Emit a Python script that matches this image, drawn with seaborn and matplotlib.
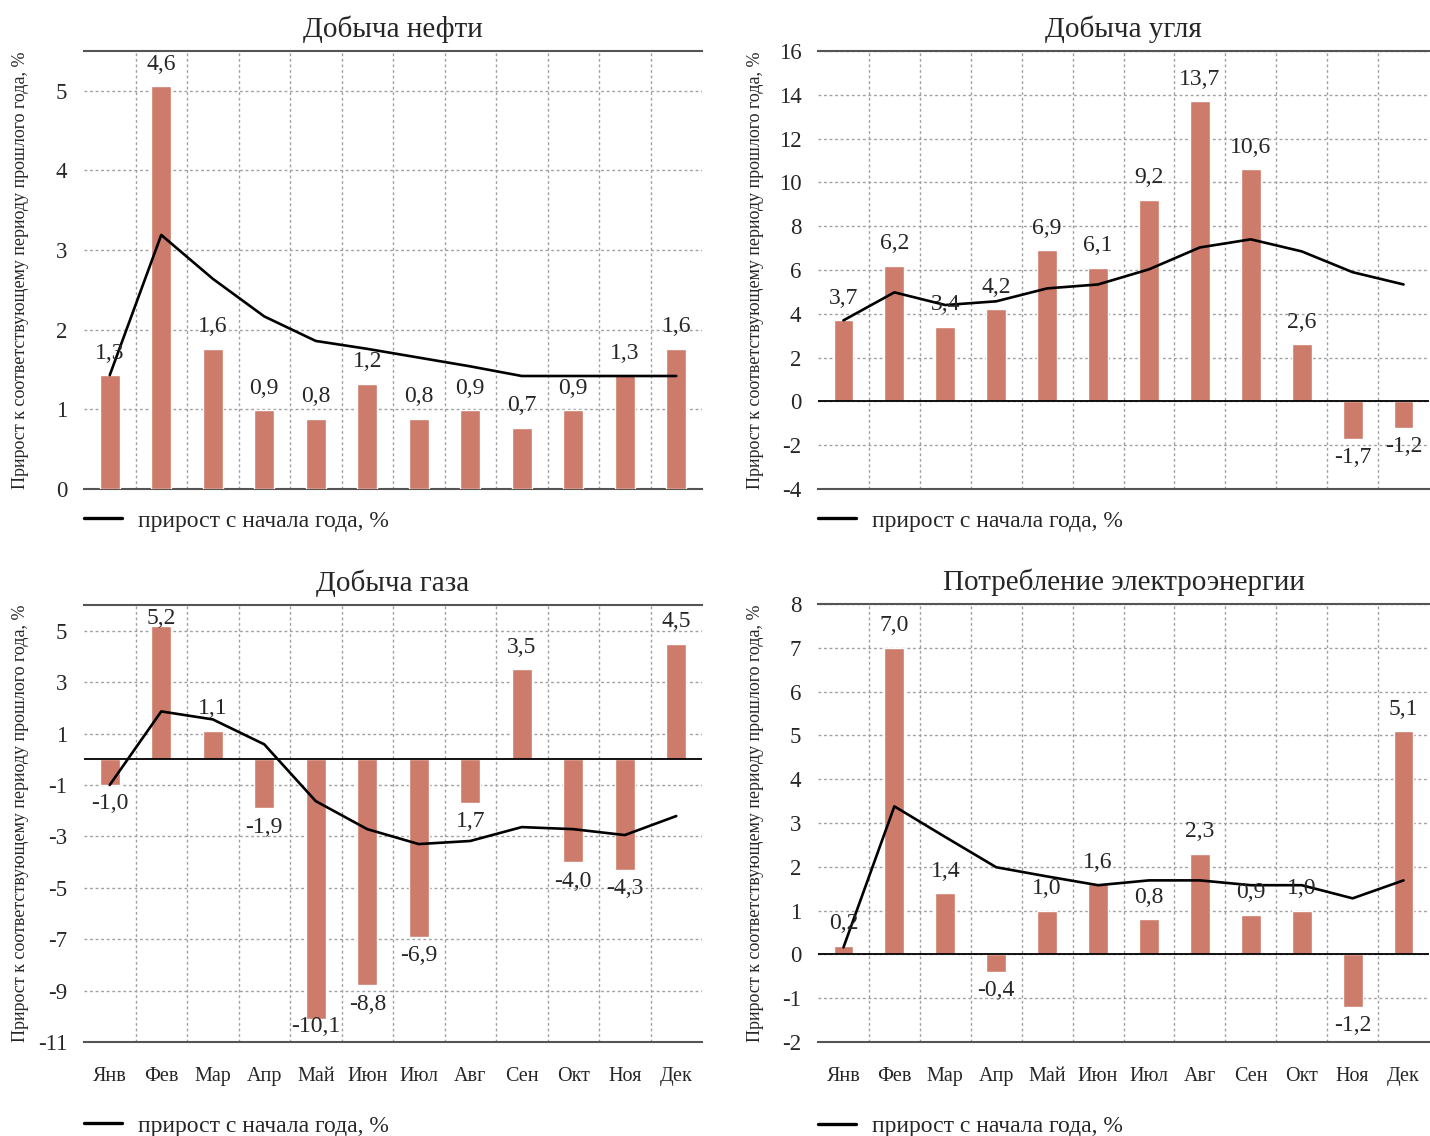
import numpy as np
import pandas as pd
import matplotlib
matplotlib.use("Agg")
import matplotlib.pyplot as plt
from matplotlib.lines import Line2D
import seaborn as sns

# ---- data -------------------------------------------------------------
months = ["Янв", "Фев", "Мар", "Апр", "Май", "Июн",
          "Июл", "Авг", "Сен", "Окт", "Ноя", "Дек"]

oil_monthly = [1.3, 4.6, 1.6, 0.9, 0.8, 1.2, 0.8, 0.9, 0.7, 0.9, 1.3, 1.6]
oil_ytd = [1.3, 2.9, 2.4, 1.97, 1.69, 1.6, 1.5, 1.4, 1.29, 1.29, 1.29, 1.29]

coal_monthly = [3.7, 6.2, 3.4, 4.2, 6.9, 6.1, 9.2, 13.7, 10.6, 2.6, -1.7, -1.2]
coal_ytd = [3.7, 4.98, 4.4, 4.57, 5.16, 5.34, 6.03, 7.03, 7.4, 6.85, 5.9, 5.34]

gas_monthly = [-1.0, 5.2, 1.1, -1.9, -10.1, -8.8, -6.9, -1.7, 3.5, -4.0, -4.3, 4.5]
gas_ytd = [-1.0, 1.86, 1.55, 0.58, -1.63, -2.72, -3.3, -3.18, -2.64, -2.72, -2.95, -2.21]
gas_label_text = {7: "1,7"}

power_monthly = [0.2, 7.0, 1.4, -0.4, 1.0, 1.6, 0.8, 2.3, 0.9, 1.0, -1.2, 5.1]
power_ytd = [0.16, 3.38, 2.68, 1.99, 1.78, 1.58, 1.69, 1.69, 1.58, 1.58, 1.28, 1.69]

titles = ["Добыча нефти", "Добыча угля", "Добыча газа", "Потребление электроэнергии"]
y_title = "Прирост к соответствующему периоду прошлого года, %"
legend_text = "прирост с начала года, %"

# ---- style ------------------------------------------------------------
sns.set_style("white")
plt.rcParams["font.family"] = ["Liberation Serif", "DejaVu Serif"]
plt.rcParams["axes.unicode_minus"] = False

BAR = "#CD7B6B"
GRID = "#A0A0A0"
FRAME = "#555555"

W, H = 1430, 1136
fig = plt.figure(figsize=(W / 100, H / 100), dpi=100)


def fmt(v):
    return f"{v:.1f}".replace(".", ",")


def panel(rect, title, monthly, ytd, axis_lim, yticks, data_lim=None,
          show_months=False, legend_y=-0.073, label_text=None):
    label_text = label_text or {}
    data_lim = data_lim or axis_lim
    ax = fig.add_axes(rect)          # frame: ticks, grid, spines
    axd = ax.twinx()                 # marks: bars, line, value labels

    df = pd.DataFrame({"month": months, "pos": np.arange(len(months)),
                       "monthly": monthly, "ytd": ytd})
    sns.barplot(data=df, x="month", y="monthly", order=months, color=BAR,
                saturation=1, width=0.39, ax=axd, zorder=2)
    sns.lineplot(data=df, x="pos", y="ytd", color="black", linewidth=1.9,
                 ax=axd, zorder=4)
    axd.set_ylim(*data_lim)
    axd.set_xlabel("")
    axd.set_ylabel("")
    axd.set_yticks([])
    for s in axd.spines.values():
        s.set_visible(False)
    if data_lim[0] < 0:
        axd.axhline(0, color="black", lw=1.3, zorder=3)

    # value labels above positive bars, below negative ones
    ax_h = rect[3] * H
    ppu = ax_h / (data_lim[1] - data_lim[0])
    for i, v in enumerate(monthly):
        y = v + 22 / ppu if v >= 0 else v - 19 / ppu
        y = min(y, data_lim[1] - 13 / ppu)
        y = max(y, data_lim[0] + 16 / ppu)
        axd.text(i, y, label_text.get(i, fmt(v)), ha="center", va="center",
                 fontsize=17, zorder=5)

    ax.set_xlim(-0.5, len(months) - 0.5)
    ax.set_ylim(*axis_lim)
    ax.set_yticks(yticks)
    ax.set_yticklabels([str(t) for t in yticks])
    ax.set_xticks(np.arange(len(months)))
    ax.set_xticklabels(months if show_months else [])
    ax.set_xticks(np.arange(0.5, len(months) - 1), minor=True)
    ax.tick_params(axis="y", length=0, labelsize=16.5, pad=12)
    ax.tick_params(axis="x", which="both", length=0, labelsize=14.5, pad=18)
    ax.grid(False)
    ax.grid(True, which="major", axis="y", color=GRID, lw=1,
            linestyle=(0, (2, 2)))
    ax.grid(True, which="minor", axis="x", color=GRID, lw=1,
            linestyle=(0, (2, 2)))
    for side in ("left", "right"):
        ax.spines[side].set_visible(False)
    for side in ("top", "bottom"):
        ax.spines[side].set_color(FRAME)
        ax.spines[side].set_linewidth(1.5)

    ax.set_title(title, fontsize=21, pad=10)
    ax.set_ylabel(y_title, fontsize=13)
    ax.yaxis.set_label_coords(-0.089, 0.5)

    ax.legend(handles=[Line2D([], [], color="black", lw=2.4)],
              labels=[legend_text], loc="center left",
              bbox_to_anchor=(0, legend_y), frameon=False, fontsize=17,
              handlelength=1.6, handletextpad=0.7, borderaxespad=0,
              borderpad=0)
    return ax


L1, L2 = 84 / W, 818 / W
W1, W2 = 618 / W, 611 / W
B_top, B_bot = (H - 489) / H, (H - 1042) / H
H_ax = 438 / H

panel([L1, B_top, W1, H_ax], titles[0], oil_monthly, oil_ytd,
      (0, 5.5), list(range(0, 6)), data_lim=(0, 5))
panel([L2, B_top, W2, H_ax], titles[1], coal_monthly, coal_ytd,
      (-4, 16), list(range(-4, 17, 2)))
panel([L1, B_bot, W1, 437 / H], titles[2], gas_monthly, gas_ytd,
      (-11, 6), list(range(5, -12, -2)), show_months=True,
      legend_y=-0.192, label_text=gas_label_text)
panel([L2, B_bot, W2, H_ax], titles[3], power_monthly, power_ytd,
      (-2, 8), list(range(-2, 9)), show_months=True, legend_y=-0.192)

fig.savefig("out.png", dpi=100, facecolor="white")
